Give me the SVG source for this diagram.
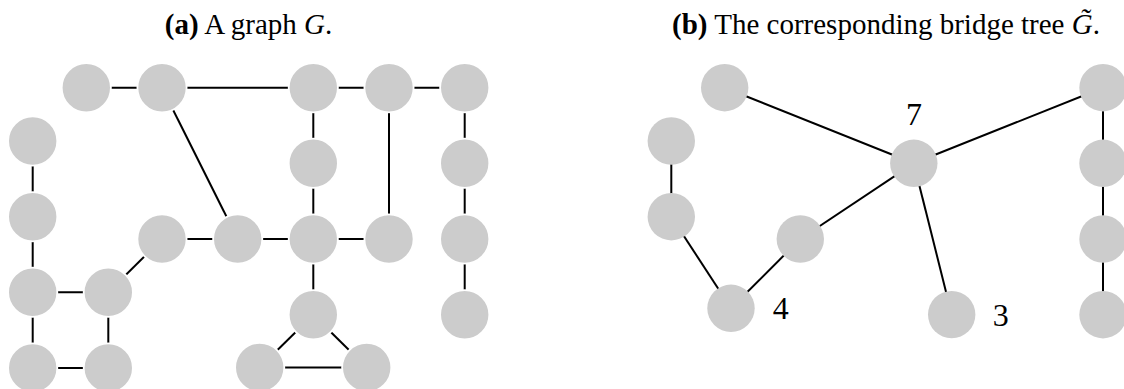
<svg xmlns="http://www.w3.org/2000/svg" width="1124" height="389" viewBox="0 0 1124 389">
<style>
.t{font-family:"Liberation Serif","Times New Roman",serif;font-size:29px;fill:#000}
.lbl{font-family:"Liberation Serif","Times New Roman",serif;font-size:32px;fill:#000;text-anchor:middle}
.e{stroke:#000;stroke-width:2;fill:none}
.na{fill:#cccccc;stroke:#ffffff;stroke-width:1.8}
.nb{fill:#cccccc;stroke:none}
</style>
<rect width="1124" height="389" fill="#ffffff"/>
<text class="t" x="248.5" y="34" text-anchor="middle"><tspan font-weight="bold">(a)</tspan> A graph <tspan font-style="italic">G</tspan>.</text>
<text class="t" x="886" y="34" text-anchor="middle"><tspan font-weight="bold">(b)</tspan> The corresponding bridge tree <tspan font-style="italic">G̃</tspan>.</text>
<g id="connectors">
<g id="edges-a">
<line class="e" x1="86.3" y1="87.7" x2="162" y2="87.7"/>
<line class="e" x1="162" y1="87.7" x2="313.3" y2="87.7"/>
<line class="e" x1="313.3" y1="87.7" x2="389" y2="87.7"/>
<line class="e" x1="389" y1="87.7" x2="464.7" y2="87.7"/>
<line class="e" x1="162" y1="87.7" x2="237.7" y2="239"/>
<line class="e" x1="313.3" y1="87.7" x2="313.3" y2="163.3"/>
<line class="e" x1="313.3" y1="163.3" x2="313.3" y2="239"/>
<line class="e" x1="389" y1="87.7" x2="389" y2="239"/>
<line class="e" x1="464.7" y1="87.7" x2="464.7" y2="163.3"/>
<line class="e" x1="464.7" y1="163.3" x2="464.7" y2="239"/>
<line class="e" x1="464.7" y1="239" x2="464.7" y2="314.7"/>
<line class="e" x1="162" y1="239" x2="237.7" y2="239"/>
<line class="e" x1="237.7" y1="239" x2="313.3" y2="239"/>
<line class="e" x1="313.3" y1="239" x2="389" y2="239"/>
<line class="e" x1="162" y1="239" x2="108.3" y2="292.3"/>
<line class="e" x1="32.7" y1="141" x2="32.7" y2="216.7"/>
<line class="e" x1="32.7" y1="216.7" x2="32.7" y2="292.3"/>
<line class="e" x1="32.7" y1="292.3" x2="32.7" y2="368"/>
<line class="e" x1="32.7" y1="292.3" x2="108.3" y2="292.3"/>
<line class="e" x1="108.3" y1="292.3" x2="108.3" y2="368"/>
<line class="e" x1="32.7" y1="368" x2="108.3" y2="368"/>
<line class="e" x1="313.3" y1="239" x2="313.3" y2="314.7"/>
<line class="e" x1="313.3" y1="314.7" x2="259.7" y2="367.5"/>
<line class="e" x1="313.3" y1="314.7" x2="366.7" y2="367.5"/>
<line class="e" x1="259.7" y1="367.5" x2="366.7" y2="367.5"/>
</g>
<g id="edges-b">
<line class="e" x1="724.7" y1="87.7" x2="913.8" y2="163.3"/>
<line class="e" x1="913.8" y1="163.3" x2="1103" y2="87.7"/>
<line class="e" x1="1103" y1="87.7" x2="1103" y2="163.3"/>
<line class="e" x1="1103" y1="163.3" x2="1103" y2="239"/>
<line class="e" x1="1103" y1="239" x2="1103" y2="314.7"/>
<line class="e" x1="913.8" y1="163.3" x2="800.3" y2="239"/>
<line class="e" x1="913.8" y1="163.3" x2="951.7" y2="314.6"/>
<line class="e" x1="800.3" y1="239" x2="731" y2="308.3"/>
<line class="e" x1="731" y1="308.3" x2="671.3" y2="216.7"/>
<line class="e" x1="671.3" y1="141" x2="671.3" y2="216.7"/>
</g>
</g>
<g id="nodes-a">
<g id="a1"><circle class="na" cx="86.3" cy="87.7" r="24.6"/></g>
<g id="a2"><circle class="na" cx="162" cy="87.7" r="24.6"/></g>
<g id="a3"><circle class="na" cx="313.3" cy="87.7" r="24.6"/></g>
<g id="a4"><circle class="na" cx="389" cy="87.7" r="24.6"/></g>
<g id="a5"><circle class="na" cx="464.7" cy="87.7" r="24.6"/></g>
<g id="b1"><circle class="na" cx="313.3" cy="163.3" r="24.6"/></g>
<g id="c1"><circle class="na" cx="464.7" cy="163.3" r="24.6"/></g>
<g id="d1"><circle class="na" cx="162" cy="239" r="24.6"/></g>
<g id="e1"><circle class="na" cx="237.7" cy="239" r="24.6"/></g>
<g id="f1"><circle class="na" cx="313.3" cy="239" r="24.6"/></g>
<g id="g1"><circle class="na" cx="389" cy="239" r="24.6"/></g>
<g id="h1"><circle class="na" cx="464.7" cy="239" r="24.6"/></g>
<g id="h2"><circle class="na" cx="464.7" cy="314.7" r="24.6"/></g>
<g id="l1"><circle class="na" cx="32.7" cy="141" r="24.6"/></g>
<g id="l2"><circle class="na" cx="32.7" cy="216.7" r="24.6"/></g>
<g id="l3"><circle class="na" cx="32.7" cy="292.3" r="24.6"/></g>
<g id="l4"><circle class="na" cx="32.7" cy="368" r="24.6"/></g>
<g id="m1"><circle class="na" cx="108.3" cy="292.3" r="24.6"/></g>
<g id="m2"><circle class="na" cx="108.3" cy="368" r="24.6"/></g>
<g id="t1"><circle class="na" cx="313.3" cy="314.7" r="24.6"/></g>
<g id="t2"><circle class="na" cx="259.7" cy="367.5" r="24.6"/></g>
<g id="t3"><circle class="na" cx="366.7" cy="367.5" r="24.6"/></g>
</g>
<g id="nodes-b">
<g id="p1"><circle class="nb" cx="724.7" cy="87.7" r="23.7"/></g>
<g id="q1"><circle class="nb" cx="671.3" cy="141" r="23.7"/></g>
<g id="q2"><circle class="nb" cx="671.3" cy="216.7" r="23.7"/></g>
<g id="r1"><circle class="nb" cx="800.3" cy="239" r="23.7"/></g>
<g id="n4"><circle class="nb" cx="731" cy="308.3" r="23.7"/><text class="lbl" x="780.7" y="319">4</text></g>
<g id="n7"><circle class="nb" cx="913.8" cy="163.3" r="23.7"/><text class="lbl" x="914" y="125">7</text></g>
<g id="n3"><circle class="nb" cx="951.7" cy="314.6" r="23.7"/><text class="lbl" x="1000.8" y="326">3</text></g>
<g id="rt1"><circle class="nb" cx="1103" cy="87.7" r="23.7"/></g>
<g id="rt2"><circle class="nb" cx="1103" cy="163.3" r="23.7"/></g>
<g id="rt3"><circle class="nb" cx="1103" cy="239" r="23.7"/></g>
<g id="rt4"><circle class="nb" cx="1103" cy="314.7" r="23.7"/></g>
</g>
</svg>
